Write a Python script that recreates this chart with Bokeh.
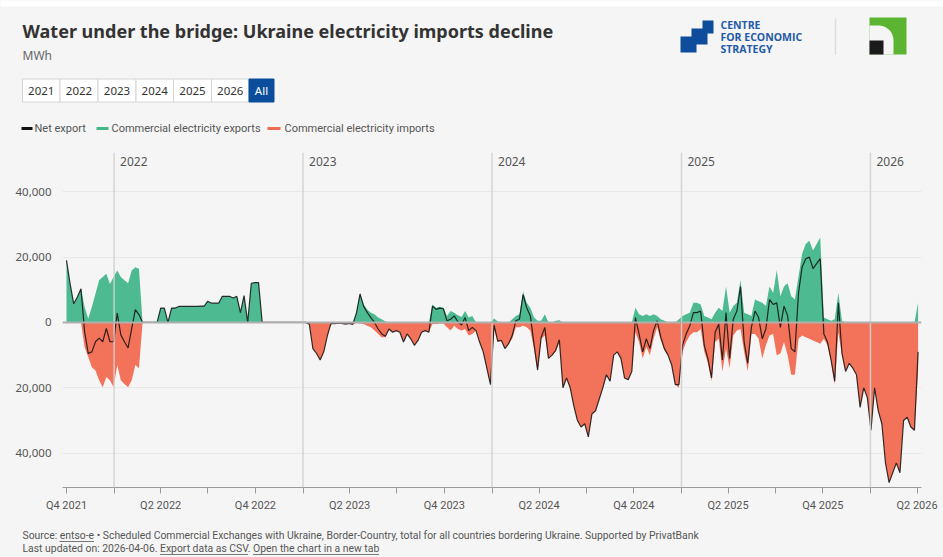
import numpy as np
import pandas as pd
from bokeh.plotting import figure
from bokeh.models import Range1d, Span, FixedTicker, ColumnDataSource
from bokeh.layouts import column
from bokeh.embed import file_html
from bokeh.resources import INLINE
from bokeh.core.properties import value

# ---------------- data (weekly, MWh) ----------------
week_start = "2021-10-01"

exports_2021 = [19000, 11800, 5700, 7800, 10300, 4700, 1100, 4700, 8800, 12900, 13900, 14900, 11800, 13900]
imports_2021 = [0, 0, 0, 0, 0, 7500, 10600, 13700, 14700, 17700, 19800, 16700, 17700, 19800]

exports_2022 = ([15900, 13900, 12900, 12000, 15900, 16900, 16400]
                + [0, 0, 0, 0, 0]
                + [4400, 4400, 0, 4400, 4400, 4900, 4900, 4900, 4900, 4900, 4900, 5000, 5000, 6500,
                   5900, 5900, 5900, 8000, 8000, 8000, 7500, 8000, 3000, 8200, 0, 12000, 12200, 12200]
                + [0] * 12)
imports_2022 = [13000, 17700, 18800, 19800, 17700, 13000, 14000] + [0] * 45

exports_2023 = ([0] * 14
                + [3000, 9000, 5500, 4000, 3000, 2500, 1500, 1000, 300]
                + [0] * 12
                + [5500, 4500, 4800, 4500, 2000, 3500, 3000, 2200, 1700, 3500, 1500, 2000]
                + [0] * 5)
imports_2023 = ([0, 500, 8000, 9500, 11500, 9000, 4000]
                + [300, 400, 200, 300, 500, 300, 600, 200, 300, 500, 1000, 1500, 2500, 3500, 4500,
                   4500, 2000, 3000, 2500, 3000, 6000, 3500, 5000, 7000, 5500, 3000, 2500, 3000,
                   500, 500, 400, 300, 1500, 2500, 1000, 2000, 2500, 2000, 4000, 3500, 2500,
                   6000, 9000, 14000, 19000])

exports_2024 = ([1200, 300, 0, 0, 0, 1000, 2000, 2500, 9500, 6000, 4500, 1500, 500, 500, 2500, 0, 0, 500, 700]
                + [0] * 20
                + [4500, 2500, 2000, 2500, 2000, 2500, 2000, 1000, 500, 0, 0, 0, 1000])
imports_2024 = ([2000, 6000, 5500, 8000, 6500, 5000, 1500, 1500, 1000, 1500, 2500, 8000, 15000, 5000,
                 4000, 11000, 10000, 9000, 6000]
                + [20000, 17000, 20000, 25500, 30000, 32000, 31000, 35000, 28000, 27000, 23500,
                   20000, 16000, 18000, 10000, 9000, 11000, 17000, 17500, 15000]
                + [3000, 6000, 11000, 7500, 10000, 5000, 1500, 5500, 8500, 10000, 13000, 19000, 20000])

exports_2025 = ([2000, 2500, 3000, 6000, 6000, 5500, 2000, 1500, 1000, 3000, 4500, 3500, 11000, 3000,
                 5000, 6000, 13000, 3000, 2500, 2000, 7000, 6500, 6000, 5000, 11000, 9000, 16000,
                 8000, 11000, 12000, 8000, 7000, 14000, 21000, 24000, 25000, 22000, 24000, 26000]
                + [1500, 1000, 500, 1000, 9000, 500, 0, 0, 0, 0, 0, 0, 0])
imports_2025 = ([9000, 6000, 4000, 3000, 3000, 2000, 9000, 12500, 18000, 6000, 5000, 15000, 8000,
                 14000, 4000, 2500, 2000, 9000, 15000, 3500, 3500, 5000, 11000, 7000, 4000, 3500,
                 10000, 9500, 6000, 10000, 16000, 16000, 5000, 4000, 4500, 5000, 5500, 6000, 6500]
                + [5000, 7000, 12000, 19000, 3000, 10000, 15000, 12500, 14000, 16000, 26000, 20000, 23000])

exports_2026 = [0] * 13 + [6000]
imports_2026 = [33000, 20000, 27000, 31000, 43000, 49000, 46000, 43000, 46000, 30000, 29000, 32000, 33000, 15000]

exports = exports_2021 + exports_2022 + exports_2023 + exports_2024 + exports_2025 + exports_2026
imports = imports_2021 + imports_2022 + imports_2023 + imports_2024 + imports_2025 + imports_2026
assert len(exports) == len(imports)

year_labels = ["2022", "2023", "2024", "2025", "2026"]
quarter_labels = ["Q4 2021", "", "Q2 2022", "", "Q4 2022", "", "Q2 2023", "", "Q4 2023", "",
                  "Q2 2024", "", "Q4 2024", "", "Q2 2025", "", "Q4 2025", "", "Q2 2026"]
y_ticks = [-40000, -20000, 0, 20000, 40000]
y_tick_labels = ["40,000", "20,000", "0", "20,000", "40,000"]

title_text = "Water under the bridge: Ukraine electricity imports decline"
subtitle_text = "MWh"
buttons = ["2021", "2022", "2023", "2024", "2025", "2026", "All"]
legend_items = ["Net export", "Commercial electricity exports", "Commercial electricity imports"]
source_line = ("Source: entso-e \u2022 Scheduled Commercial Exchanges with Ukraine, Border-Country, "
               "total for all countries bordering Ukraine. Supported by PrivatBank")
updated_line = "Last updated on: 2026-04-06. Export data as CSV. Open the chart in a new tab"

# ---------------- style ----------------
BG = "#f5f5f5"
GREEN = "#43b68b"
RED = "#f26b51"
FONT = "Noto Sans"
NARROW = "Roboto"
TXT = "#555555"
W, H = 943, 557
HEAD_H = 140            # header occupies y 0..140
FL, FR, FT, FB = 62, 921, 152, 487   # chart frame in page pixels
FOOT_T = 520            # footer occupies y 520..557


def ms(d):
    return int(pd.Timestamp(d).value // 10**6)


def no_align(fig):
    if "frame_align" in fig.properties():
        fig.frame_align = False


def page_fig(y_top, y_bot):
    fig = figure(width=W, height=y_bot - y_top, x_range=Range1d(0, W), y_range=Range1d(y_bot, y_top),
                 x_axis_location=None, y_axis_location=None, min_border=0,
                 toolbar_location=None, output_backend="svg",
                 background_fill_color=BG, border_fill_color=BG, outline_line_color=None)
    fig.grid.visible = False
    no_align(fig)
    return fig


dates = pd.date_range(week_start, periods=len(exports), freq="7D")
src = ColumnDataSource(dict(
    date=dates,
    exp=exports,
    neg_imp=[-v for v in imports],
    net=[e - i for e, i in zip(exports, imports)],
))

# ---------------- header ----------------
h = page_fig(0, HEAD_H)
h.quad(left=[-1], right=[W + 1], top=[-1], bottom=[6], fill_color="#ffffff", line_color=None)

h.text(x=[22], y=[30], text=[title_text], text_font=value(FONT), text_font_style="bold",
       text_font_size="18px", text_color="#333333", text_baseline="middle")
h.text(x=[22], y=[55], text=[subtitle_text], text_font=value(FONT), text_font_size="12px",
       text_color="#666666", text_baseline="middle")

b_left = [22, 59.5, 97.5, 135.5, 173, 211, 248.5]
b_right = b_left[1:] + [273.5]
b_fill = ["#ffffff"] * 6 + ["#0b4d9c"]
b_line = ["#d4d4d4"] * 6 + ["#0b4d9c"]
b_txt = ["#333333"] * 6 + ["#ffffff"]
h.quad(left=b_left, right=b_right, top=[78.5] * 7, bottom=[101.5] * 7,
       fill_color=b_fill, line_color=b_line, line_width=1)
h.text(x=[(l + r) / 2 for l, r in zip(b_left, b_right)], y=[90] * 7, text=buttons,
       text_font=value(FONT), text_font_size="11.5px", text_color=b_txt,
       text_align="center", text_baseline="middle")

h.segment(x0=[21, 96, 267], y0=[128] * 3, x1=[32, 108, 280], y1=[128] * 3,
          line_color=["#111111", GREEN, RED], line_width=3)
h.text(x=[34, 111, 284], y=[128] * 3, text=legend_items, text_font=value(NARROW),
       text_font_size="11px", text_color=TXT, text_baseline="middle")

# CES logo
h.quad(left=[702, 691, 680], right=[713, 707, 696], top=[20, 28, 36], bottom=[33, 44, 52],
       fill_color="#0e4c9c", line_color=None)
h.text(x=[720] * 3, y=[24, 36, 48], text=["CENTRE", "FOR ECONOMIC", "STRATEGY"],
       text_font=value("Open Sans"), text_font_style="bold", text_font_size="10.5px",
       text_color="#1f5aa8", text_baseline="middle")
h.segment(x0=[835], y0=[18], x1=[835], y1=[54], line_color="#dddddd", line_width=1.5)

# PrivatBank logo
h.quad(left=[869], right=[906], top=[17], bottom=[54], fill_color="#5bb532", line_color=None)
tt = np.linspace(0, np.pi / 2, 20)
wx = [869, 878] + list(878 + 15 * np.sin(tt)) + [893, 869]
wy = [25, 25] + list(40 - 15 * np.cos(tt)) + [54, 54]
h.patch(wx, wy, fill_color=BG, line_color=None)
h.quad(left=[869], right=[883], top=[40], bottom=[54], fill_color="#1b1b1b", line_color=None)

# ---------------- main chart ----------------
x0 = pd.Timestamp("2021-10-01") - pd.Timedelta(days=7.7)
x1 = x0 + pd.Timedelta(days=1659.3)
p = figure(x_axis_type="datetime", frame_width=FR - FL, frame_height=FB - FT,
           x_range=Range1d(ms(x0), ms(x1)), y_range=Range1d(-50500, 52000),
           min_border_left=FL, min_border_right=W - FR, min_border_top=FT - HEAD_H,
           min_border_bottom=FOOT_T - FB,
           toolbar_location=None, output_backend="svg",
           background_fill_color=BG, border_fill_color=BG, outline_line_color=None)
no_align(p)

p.varea(x="date", y1=0, y2="exp", source=src, fill_color=GREEN, fill_alpha=0.95)
p.varea(x="date", y1=0, y2="neg_imp", source=src, fill_color=RED, fill_alpha=0.95)
p.line(x="date", y="net", source=src, line_color="#111111", line_width=1.2, line_alpha=0.85)

year_ms = [ms(f"{y}-01-01") for y in year_labels]
for xm in year_ms:
    p.add_layout(Span(location=xm, dimension="height", line_color="#d2d2d2", line_width=1.5,
                      line_alpha=0.9))
p.add_layout(Span(location=0, dimension="width", line_color="#b0b0b0", line_width=2))
p.text(x=year_ms, y=[49300] * len(year_ms), text=year_labels, x_offset=6,
       text_font=value(FONT), text_font_size="12px", text_color=TXT, text_baseline="middle")

qticks = [ms(d) for d in pd.date_range("2021-10-01", periods=len(quarter_labels), freq="QS")]
p.xaxis.ticker = FixedTicker(ticks=qticks)
p.xaxis.major_label_overrides = {k: v for k, v in zip(qticks, quarter_labels)}
p.xaxis.axis_line_color = "#9a9a9a"
p.xaxis.major_tick_line_color = "#9a9a9a"
p.xaxis.major_tick_out = 6
p.xaxis.major_tick_in = 0
p.xaxis.minor_tick_line_color = None
p.xaxis.major_label_standoff = 5
p.xaxis.major_label_text_font = NARROW
p.xaxis.major_label_text_font_size = "11px"
p.xaxis.major_label_text_color = TXT

p.yaxis.ticker = FixedTicker(ticks=y_ticks)
p.yaxis.major_label_overrides = {k: v for k, v in zip(y_ticks, y_tick_labels)}
p.yaxis.axis_line_color = None
p.yaxis.major_tick_line_color = None
p.yaxis.minor_tick_line_color = None
p.yaxis.major_label_standoff = 5
p.yaxis.major_label_text_font = FONT
p.yaxis.major_label_text_font_size = "11.5px"
p.yaxis.major_label_text_color = TXT

p.xgrid.visible = False
p.ygrid.grid_line_color = "#e8e8e8"

# ---------------- footer ----------------
f = page_fig(FOOT_T, H)
f.text(x=[22, 22], y=[535, 548], text=[source_line, updated_line], text_font=value(NARROW),
       text_font_size="10.4px", text_color=TXT, text_baseline="middle")
# link underlines
f.segment(x0=[59, 159.5, 252.5], y0=[541, 554, 554], x1=[93.5, 247.5, 378.5], y1=[541, 554, 554],
          line_color=TXT, line_width=0.8)

layout = column(h, p, f, spacing=0, styles={"background-color": BG})
open("out.html", "w").write(file_html(layout, INLINE))
